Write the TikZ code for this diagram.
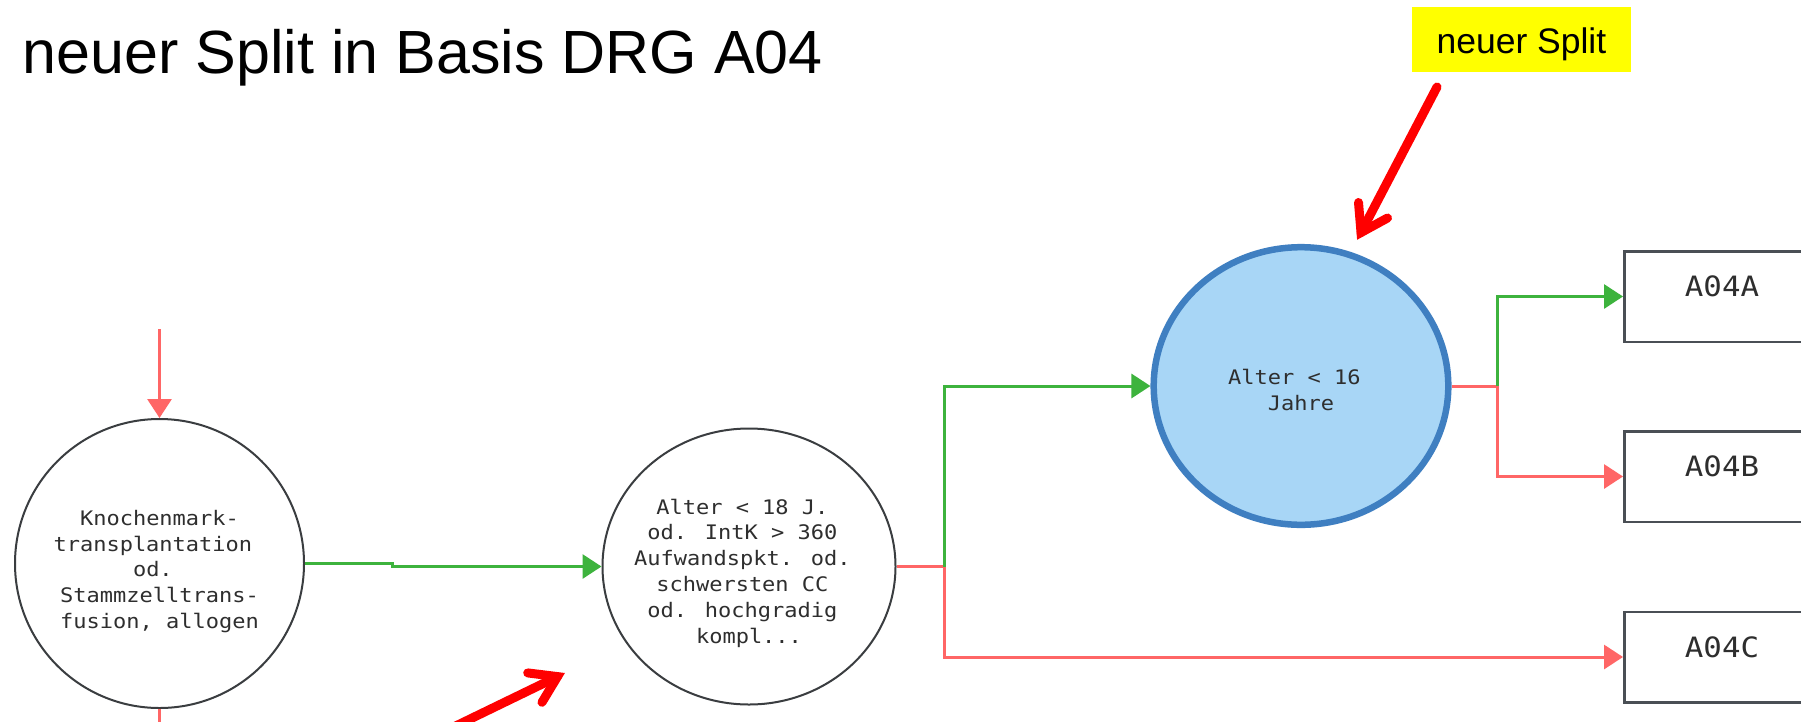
\documentclass[tikz,border=0pt]{standalone}
\usepackage{fontspec}
\setmainfont{Liberation Sans}
\newfontfamily\monofont[FakeStretch=1.1]{DejaVu Sans Mono}
\usetikzlibrary{arrows.meta,shapes.geometric}

\definecolor{okgreen}{HTML}{3DB33D}
\definecolor{nogred}{HTML}{FF6666}
\definecolor{nodeline}{HTML}{3A3D40}
\definecolor{boxline}{HTML}{4A4F55}
\definecolor{txtgray}{HTML}{2E2E2E}
\definecolor{bluefill}{HTML}{A8D6F6}
\definecolor{blueline}{HTML}{3F7FC1}
\definecolor{hlyellow}{HTML}{FFFF00}
\definecolor{annred}{HTML}{FF0000}

\begin{document}
\begin{tikzpicture}[x=1pt,y=-1pt,
  cnode/.style={draw=nodeline, line width=2pt, fill=white, inner sep=0pt},
  bnode/.style={ellipse, draw=blueline, fill=bluefill, line width=6.5pt, inner sep=0pt},
  drgbox/.style={rectangle, draw=boxline, line width=2.5pt, fill=white, inner sep=0pt,
                 minimum width=195.5pt, minimum height=90.5pt},
  ctext/.style={font=\monofont\fontsize{20}{25.8}\selectfont, text=txtgray, align=center, inner sep=0pt},
  btext/.style={font=\monofont\fontsize{28}{30}\selectfont, text=txtgray, inner sep=0pt, anchor=base},
  yesline/.style={draw=okgreen, line width=3pt},
  noline/.style={draw=nogred, line width=3pt},
  tip/.style={-{Triangle[length=19pt,width=24pt]}},
  annline/.style={draw=annred, line width=9pt, line cap=round, line join=miter},
  hl/.style={fill=hlyellow, inner sep=0pt, minimum width=219.3pt, minimum height=65pt}
]
\useasboundingbox (0,0) rectangle (1801,721);
\clip (0,0) rectangle (1801,721);
\fill[white] (0,0) rectangle (1801,721);

% title
\node[anchor=base west, inner sep=0pt, font=\fontsize{61}{61}\selectfont] (title) at (22.5,73.3) {neuer Split in Basis DRG A04};

% highlighted label
\node[hl] (lbl) at (1521.4,39.5) {};
\node[anchor=base, inner sep=0pt, font=\fontsize{35.5}{36}\selectfont] (lbltext) at (1521.4,53.3) {neuer Split};

% decision nodes
\node[circle, cnode, minimum size=289pt] (k) at (159.5,563.5) {};
\node[ctext] (ktext) at (159.5,571.5) {Knochenmark-\\transplantation\phantom{x}\\od.\phantom{x}\\Stammzelltrans-\\fusion, allogen};

\node[ellipse, cnode, minimum width=293pt, minimum height=276pt] (m) at (749,566.5) {};
\node[ctext] (mtext) at (749,573) {Alter < 18 J.\phantom{x}\\od. IntK > 360\phantom{x}\\Aufwandspkt. od.\phantom{x}\\schwersten CC\phantom{x}\\od. hochgradig\phantom{x}\\kompl...};

\node[bnode, minimum width=294.6pt, minimum height=277.6pt] (b) at (1301,386) {};
\node[ctext] (btxt) at (1301,390) {Alter < 16\phantom{x}\\Jahre};

% result boxes
\node[drgbox] (boxa) at (1722,296.5) {};
\node[drgbox] (boxb) at (1722,476.5) {};
\node[drgbox] (boxc) at (1722,657) {};
\node[btext] (ta) at (boxa.center) {A04A};
\node[btext] (tb) at (boxb.center) {A04B};
\node[btext] (tc) at (boxc.center) {A04C};

% connector helper coordinates
\coordinate (kin) at (159.5,329);
\coordinate (kout) at (159.5,735);
\coordinate (j1) at (944,566.5);
\coordinate (j2) at (1497,386);

% connectors
\draw[noline, tip] (kin) -- (k.north);
\draw[noline] (k.south) -- (kout);
\draw[yesline, tip] (k.east) -- ++(87,0) |- (m.west);
\draw[noline] (m.east) -- (j1);
\draw[yesline, tip] (j1) |- (b.west);
\draw[noline, tip] (j1) |- (boxc.west);
\draw[noline] (b.east) -- (j2);
\draw[yesline, tip] (j2) |- (boxa.west);
\draw[noline, tip] (j2) |- (boxb.west);

% annotation arrows
\coordinate (atail) at (1437,87);
\coordinate (atip) at (1361,232.5);
\coordinate (aarm1) at (1358.5,202.5);
\coordinate (aarm2) at (1387.5,218);
\draw[annline] (atail) -- (atip);
\draw[annline] (aarm1) -- (atip) -- (aarm2);

\coordinate (btail) at (449.5,729);
\coordinate (btip) at (557.5,676.6);
\coordinate (barm1) at (542,702.3);
\coordinate (barm2) at (527.7,672.9);
\draw[annline] (btail) -- (btip);
\draw[annline] (barm1) -- (btip) -- (barm2);
\end{tikzpicture}
\end{document}
